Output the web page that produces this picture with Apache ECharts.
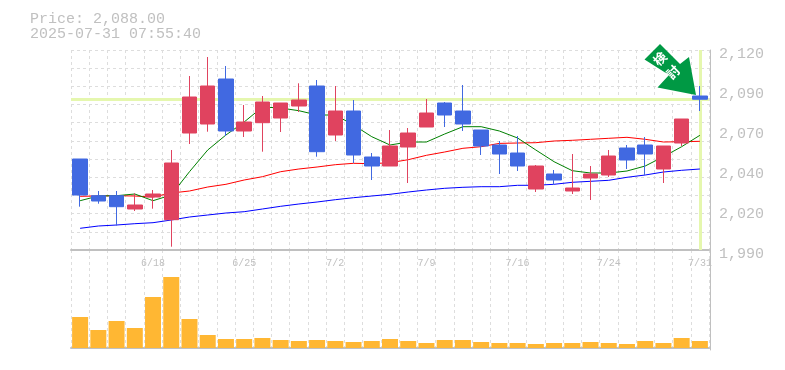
<!DOCTYPE html>
<html><head><meta charset="utf-8">
<style>html,body{margin:0;padding:0;background:#fff}#c{width:785px;height:370px}</style>
<script src="https://cdn.jsdelivr.net/npm/echarts@6/dist/echarts.min.js"></script>
</head><body><div id="c"></div>
<script>
const categories=['6/12','6/13','6/16','6/17','6/18','6/19','6/20','6/23','6/24','6/25','6/26','6/27','6/30','7/1','7/2','7/3','7/4','7/7','7/8','7/9','7/10','7/11','7/14','7/15','7/16','7/17','7/18','7/22','7/23','7/24','7/25','7/28','7/29','7/30','7/31'];
// open, close, low, high
const ohlc=[
[2049.15,2025.75,2018.15,2049.15],[2025.3,2021.85,2020.1,2028.35],[2025.3,2018.15,2005.8,2028.35],[2016.65,2019.25,2015.35,2026.85],[2024.45,2026.4,2016.85,2029],[2009.7,2046.55,1992.15,2055],
[2066.05,2089.45,2058.9,2103.1],[2071.9,2096.6,2066.9,2115.45],[2101.15,2067.35,2064.1,2109.6],[2067.35,2073.2,2063.45,2084.25],[2072.75,2086.2,2053.9,2090.1],[2075.8,2085.55,2066.7,2085.55],
[2083.6,2087.5,2079.7,2098.35],[2096.6,2053.9,2050.65,2100.5],[2064.75,2080.35,2060.85,2096.6],[2080.35,2051.75,2046.55,2087.5],[2050.45,2044.6,2035.5,2053.05],[2044.6,2057.6,2044.6,2068],
[2056.95,2066.05,2033.55,2069.3],[2069.95,2079.05,2069.95,2088.15],[2085.55,2077.75,2069.95,2086.2],[2080.35,2071.9,2067.35,2097.25],[2068,2057.6,2051.75,2068],[2058.25,2052.4,2039.4,2060.85],
[2053.05,2044.6,2041.35,2064.1],[2029.65,2044.6,2027.7,2045.25],[2039.4,2035.5,2032.25,2042],[2028.35,2030.3,2026.4,2052.4],[2036.8,2039.4,2022.5,2044.6],[2038.75,2051.1,2037.45,2055],
[2056.3,2048.5,2042.65,2058.25],[2058.25,2052.4,2038.75,2063.45],[2042.65,2057.6,2033.55,2057.6],[2059.55,2075.15,2057.6,2075.15],[2090.1,2088,2080.35,2096.6]];
const ma5=[2022.05,2025.1,2025.3,2026.4,2022.05,2025.75,2040.9,2055,2064.75,2073.2,2082.95,2082.3,2080.55,2077.75,2077.75,2071.25,2063.65,2058.25,2060.2,2060.2,2065.4,2070.15,2070.15,2067.35,2062.8,2055,2047.4,2041.55,2040.05,2040.05,2041.35,2044.6,2050.65,2057.15,2064.55];
const ma25=[2024.9,2025.1,2025.3,2025.1,2024.45,2027.05,2028.35,2030.95,2032.7,2035.5,2037.65,2040.9,2042.65,2043.95,2045.45,2046.35,2046.1,2046.75,2048.7,2051.55,2053.7,2056.1,2057.15,2059.3,2059.55,2059.75,2060.85,2061.3,2061.95,2062.6,2063.25,2061.95,2060.2,2060.4,2060.65];
const ma75=[2004.1,2005.6,2006.25,2007.1,2007.75,2009.5,2011.45,2012.75,2014.05,2014.9,2016.65,2018.4,2019.9,2021.2,2022.7,2024,2025.1,2026.2,2027.7,2029,2030.1,2030.75,2031.15,2031.15,2032.05,2032.05,2032.7,2034,2034.65,2035.3,2037.25,2038.75,2040.7,2041.8,2042.65];
const volumes=[310,180,270,200,510,710,290,130,90,90,100,80,70,80,70,60,70,90,70,50,80,80,60,50,50,40,50,50,60,50,40,70,50,100,70];
const tickValues=[1990,2016,2042,2068,2094,2120];
const tickLabels=['1,990','2,020','2,040','2,070','2,090','2,120'];
const lastPrice=2088;
const priceTitle='Price: 2,088.00';
const timeTitle='2025-07-31 07:55:40';
const arrowText='検\n討';

const GREY='#c0c0c0',GRID='#dddddd',UP='#e0435f',DOWN='#4169e1';
const mono='"Liberation Mono"';
const dashed={lineStyle:{color:GRID,type:[3,3],width:1}};
const grid=[{left:71,top:50,width:638,height:200},{left:71,top:250,width:638,height:100}];
const chart=echarts.init(document.getElementById('c'),null,{renderer:'canvas'});
const lineS=(name,data,color,w)=>({name,type:'line',data,xAxisIndex:0,yAxisIndex:0,symbol:'none',z:2,animation:false,lineStyle:{color,width:w}});
chart.setOption({
 animation:false,backgroundColor:'#fff',
 title:{text:priceTitle+'\n'+timeTitle,left:25,top:7,textStyle:{fontFamily:mono,fontSize:15,fontWeight:'normal',color:GREY,lineHeight:15}},
 grid,
 xAxis:[
  {type:'category',gridIndex:0,data:categories,boundaryGap:true,axisLine:{lineStyle:{color:GREY,width:2}},axisTick:{show:false},
   splitLine:{show:true,interval:0,...dashed},
   axisLabel:{interval:(i)=>i%5===4,hideOverlap:false,margin:8,fontFamily:mono,fontSize:10,color:GREY}},
  {type:'category',gridIndex:1,data:categories,boundaryGap:true,axisLine:{lineStyle:{color:GREY,width:2}},axisTick:{show:false},axisLabel:{show:false},
   splitLine:{show:true,interval:0,...dashed}}],
 yAxis:[
  {type:'value',gridIndex:0,position:'right',offset:1,min:1990,max:2120,axisLine:{show:true,lineStyle:{color:GREY,width:1}},axisTick:{show:false},splitLine:{show:false},
   axisLabel:{customValues:tickValues,formatter:v=>tickLabels[tickValues.indexOf(v)],margin:9,verticalAlign:'top',lineHeight:8,fontFamily:mono,fontSize:15,color:GREY}},
  {type:'value',gridIndex:0,position:'left',min:0,max:11,interval:1,axisLine:{show:false},axisTick:{show:false},axisLabel:{show:false},splitLine:{show:true,...dashed}},
  {type:'value',gridIndex:1,position:'right',offset:1,min:-20,max:980,axisLine:{show:true,lineStyle:{color:GREY,width:1}},axisTick:{show:false},axisLabel:{show:false},splitLine:{show:false}}],
 series:[
  lineS('MA75',ma75,'#0000ff',1),
  lineS('MA25',ma25,'#ff0000',1),
  lineS('MA5',ma5,'#008000',1),
  {type:'candlestick',name:'Price',data:ohlc,xAxisIndex:0,yAxisIndex:0,z:3,barWidth:15,
   itemStyle:{color:UP,color0:DOWN,borderColor:UP,borderColor0:DOWN,borderWidth:1},
   markLine:{silent:true,symbol:'none',z:1,label:{show:false},animation:false,
    lineStyle:{color:'#e5f7ae',type:'solid',width:3},
    data:[{yAxis:lastPrice},{xAxis:categories[categories.length-1]}]}},
  {type:'bar',name:'Volume',data:volumes,xAxisIndex:1,yAxisIndex:2,barWidth:16,itemStyle:{color:'#ffb733'}}
 ],
 graphic:[{type:'polygon',z:10,shape:{points:[[644.5,59.5],[660,44],[680,64],[689,57],[696,95],[657.5,87.5],[669,75]]},style:{fill:'#009944'}},
  {type:'text',z:11,rotation:Math.PI/4,x:666.5,y:65.5,style:{text:arrowText,fill:'#fff',font:'bold 13px "Noto Sans CJK JP"',lineHeight:19,align:'center',verticalAlign:'middle'}}]
});
</script></body></html>
